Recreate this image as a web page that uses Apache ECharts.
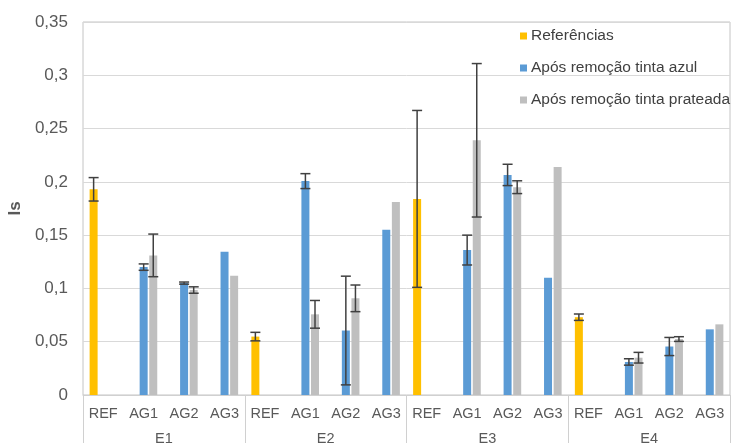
<!DOCTYPE html>
<html>
<head>
<meta charset="utf-8">
<script src="https://cdn.jsdelivr.net/npm/echarts@6/dist/echarts.min.js"></script>
<style>html,body{margin:0;padding:0;background:#fff}#c{width:732px;height:443px}</style>
</head>
<body>
<div id="c"></div>
<script>
var categories = ['REF','AG1','AG2','AG3','REF','AG1','AG2','AG3','REF','AG1','AG2','AG3','REF','AG1','AG2','AG3'];
var groups = ['E1','E2','E3','E4'];
var seriesNames = ['Referências','Após remoção tinta azul','Após remoção tinta prateada'];
var refValues  = [0.193,null,null,null, 0.0548,null,null,null, 0.184,null,null,null, 0.073,null,null,null];
var refErrors  = [0.011,null,null,null, 0.004,null,null,null, 0.083,null,null,null, 0.003,null,null,null];
var azulValues = [null,0.120,0.105,0.1345, null,0.2007,0.0605,0.155, null,0.136,0.2065,0.110, null,0.031,0.0455,0.0616];
var azulErrors = [null,0.003,0.001,null, null,0.007,0.051,null, null,0.014,0.010,null, null,0.003,0.0085,null];
var prataValues= [null,0.131,0.0985,0.112, null,0.0757,0.0907,0.181, null,0.239,0.195,0.214, null,0.035,0.0525,0.0663];
var prataErrors= [null,0.020,0.003,null, null,0.013,0.0125,null, null,0.072,0.006,null, null,0.005,0.0022,null];
var yTicks = [0,0.05,0.1,0.15,0.2,0.25,0.3,0.35];

var colors = ['#FFC000','#5B9BD5','#BFBFBF'];
var BW = 8, STEP = 9.6;

function errData(vals, errs){
  var out = [];
  for (var i=0;i<vals.length;i++){
    if (vals[i]!=null && errs[i]!=null) out.push([i, vals[i]-errs[i], vals[i]+errs[i]]);
  }
  return out;
}
function errSeries(vals, errs, offset, name){
  return {
    type:'custom', name:name+'_err', xAxisIndex:0, yAxisIndex:0, z:10,
    silent:true, legendHoverLink:false,
    data: errData(vals, errs),
    encode:{x:0, y:[1,2]},
    renderItem:function(params, api){
      var lo = api.coord([api.value(0), api.value(1)]);
      var hi = api.coord([api.value(0), api.value(2)]);
      var x = lo[0] + offset, hw = 5;
      var st = {stroke:'#404040', lineWidth:1.5};
      return {type:'group', children:[
        {type:'line', shape:{x1:x,y1:lo[1],x2:x,y2:hi[1]}, style:st},
        {type:'line', shape:{x1:x-hw,y1:lo[1],x2:x+hw,y2:lo[1]}, style:st},
        {type:'line', shape:{x1:x-hw,y1:hi[1],x2:x+hw,y2:hi[1]}, style:st}
      ]};
    }
  };
}

var chart = echarts.init(document.getElementById('c'), null, {renderer:'canvas'});
chart.setOption({
  animation:false,
  backgroundColor:'#fff',
  textStyle:{fontFamily:'Liberation Sans, Arial, sans-serif'},
  grid:{left:83, right:2, top:22, bottom:48, show:true, borderColor:'#c4c4c4', borderWidth:1,
        containLabel:false, outerBoundsMode:'none'},
  legend:{
    orient:'vertical', left:515, top:23, itemWidth:7, itemHeight:7, itemGap:16,
    icon:'rect', data:seriesNames,
    textStyle:{fontSize:15.5, color:'#404040', padding:[0,0,0,-1]}
  },
  xAxis:[{
    type:'category', data:categories, position:'bottom',
    axisLine:{show:true, lineStyle:{color:'#d0d0d0'}},
    axisTick:{show:false},
    axisLabel:{fontSize:14.5, color:'#595959', margin:11, interval:0},
    splitLine:{show:false}
  },{
    type:'category', data:groups, position:'bottom',
    axisLine:{show:false},
    axisTick:{show:true, length:48, inside:false, lineStyle:{color:'#d0d0d0'}},
    axisLabel:{fontSize:14.5, color:'#595959', margin:36, interval:0},
    splitLine:{show:false}
  }],
  yAxis:{
    type:'value', min:0, max:0.35, interval:0.05,
    name:'Is', nameLocation:'middle', nameGap:57, nameRotate:90,
    nameTextStyle:{fontSize:17, fontWeight:'bold', color:'#595959'},
    axisLine:{show:false}, axisTick:{show:false},
    axisLabel:{fontSize:17, color:'#595959', margin:15,
      formatter:function(v){ return String(+v.toFixed(2)).replace('.', ','); }},
    splitLine:{lineStyle:{color:'#d9d9d9', width:1}}
  },
  series:[
    {type:'bar', name:seriesNames[0], data:refValues, barWidth:BW, barGap:'20%', itemStyle:{color:colors[0]}},
    {type:'bar', name:seriesNames[1], data:azulValues, barWidth:BW, barGap:'20%', itemStyle:{color:colors[1]}},
    {type:'bar', name:seriesNames[2], data:prataValues, barWidth:BW, barGap:'20%', itemStyle:{color:colors[2]}},
    errSeries(refValues, refErrors, -STEP, 'ref'),
    errSeries(azulValues, azulErrors, 0, 'azul'),
    errSeries(prataValues, prataErrors, STEP, 'prata')
  ]
});
</script>
</body>
</html>
